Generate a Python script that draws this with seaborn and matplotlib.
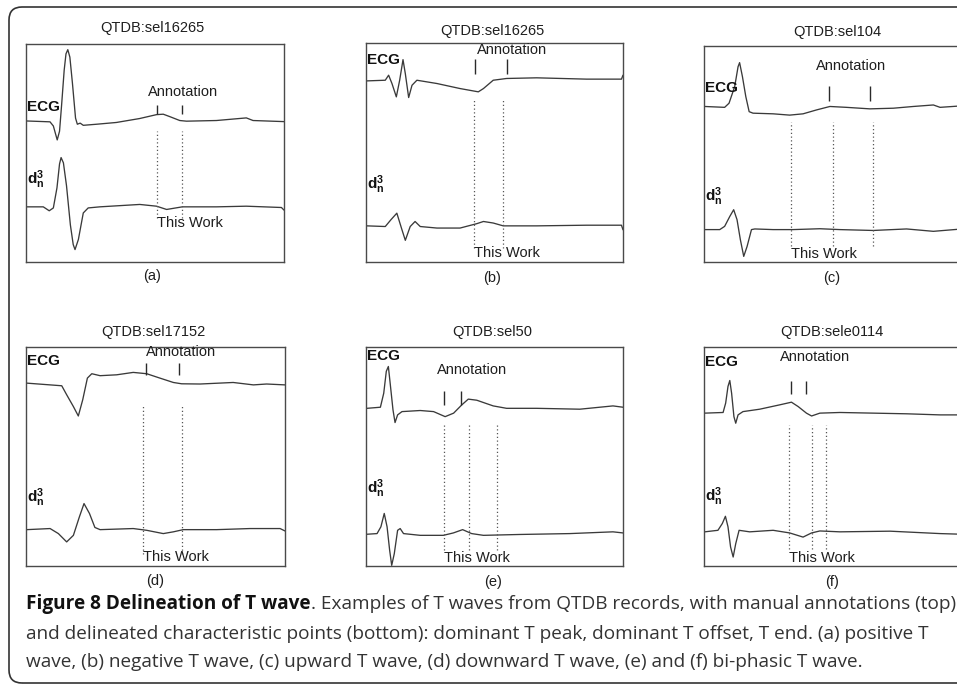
import numpy as np
import pandas as pd
import matplotlib
matplotlib.use("Agg")
import matplotlib.pyplot as plt
import seaborn as sns
from matplotlib.patches import FancyBboxPatch

# ---------------- data (x: 0-100 across box, y: 0-100 up box) ----
titles = ["QTDB:sel16265", "QTDB:sel16265", "QTDB:sel104",
          "QTDB:sel17152", "QTDB:sel50", "QTDB:sele0114"]
sublabels = ["(a)", "(b)", "(c)", "(d)", "(e)", "(f)"]

a_ecg_x = [0, 9.3, 10.6, 12.1, 13.0, 13.8, 14.8, 15.5, 16.2, 17.0, 18.0, 19.2, 19.9, 21.0, 22.2, 27.4, 35.0, 44.0, 50.6, 53.2, 55.7, 59.6, 62.2, 73.8, 85.4, 88.0, 100]
a_ecg_y = [64.7, 64.3, 62.4, 56.0, 60.0, 72.0, 88.0, 95.5, 97.4, 94.0, 82.0, 66.0, 63.2, 63.7, 62.7, 63.2, 64.0, 65.8, 67.6, 67.8, 66.7, 64.9, 64.6, 64.9, 66.1, 64.9, 64.4]
a_d3_x = [0, 6.7, 9.0, 10.6, 12.0, 13.0, 13.6, 14.5, 15.7, 17.2, 18.3, 19.0, 20.3, 22.2, 24.1, 28.6, 44.1, 50.6, 54.5, 60.6, 73.8, 85.4, 99.0, 100]
a_d3_y = [25.3, 25.3, 23.5, 24.8, 34.0, 45.0, 47.9, 45.5, 35.0, 17.0, 8.0, 5.7, 10.3, 22.5, 24.8, 25.3, 26.4, 25.6, 24.1, 25.3, 25.3, 25.6, 25.0, 23.8]
a_ann = [50.6, 60.6]
a_work = [50.6, 60.6]

b_ecg_x = [0.4, 7.5, 8.8, 10.1, 11.8, 13.1, 14.4, 15.3, 16.6, 17.9, 19.8, 27.6, 36.6, 43.7, 45.7, 49.5, 54.7, 66.4, 85.8, 99.4, 100]
b_ecg_y = [82.7, 83.0, 85.3, 81.5, 75.4, 83.0, 92.4, 86.0, 75.1, 80.7, 83.0, 81.5, 79.2, 77.7, 79.2, 83.0, 83.8, 84.1, 83.5, 83.5, 85.3]
b_d3_x = [0.4, 7.5, 9.7, 12.0, 14.0, 15.3, 17.2, 19.1, 21.1, 27.6, 36.6, 43.1, 45.7, 49.5, 53.4, 66.4, 85.8, 99.4, 100]
b_d3_y = [16.5, 16.2, 19.3, 22.3, 14.7, 9.9, 16.2, 18.5, 16.2, 15.5, 15.5, 17.5, 18.5, 17.8, 16.5, 16.5, 16.8, 16.8, 14.7]
b_ann = [42.4, 54.7]
b_work = [42.2, 53.2]

c_ecg_x = [0.3, 8.0, 9.7, 11.9, 13.2, 13.8, 14.9, 16.2, 17.5, 19.0, 26.8, 33.2, 38.4, 43.6, 48.8, 55.2, 64.3, 73.4, 81.1, 88.9, 91.5, 100]
c_ecg_y = [72.0, 71.6, 73.5, 81.2, 90.4, 92.3, 85.8, 76.6, 69.6, 68.9, 68.6, 68.0, 68.6, 70.4, 72.0, 71.6, 70.9, 71.2, 72.0, 72.7, 71.6, 72.3]
c_d3_x = [0.3, 6.1, 8.0, 10.0, 11.5, 12.8, 14.1, 15.4, 16.7, 18.4, 19.7, 26.8, 34.5, 44.9, 52.7, 65.6, 78.5, 88.9, 100]
c_d3_y = [15.0, 15.0, 16.5, 21.1, 24.2, 19.6, 10.3, 2.6, 7.2, 15.0, 15.3, 15.0, 15.0, 15.4, 15.0, 14.6, 15.3, 14.2, 15.3]
c_ann = [48.5, 64.3]
c_work = [33.9, 50.1, 65.6]

d_ecg_x = [0.3, 9.3, 13.8, 15.7, 18.3, 20.2, 21.9, 23.7, 25.4, 28.6, 35.0, 41.4, 46.6, 51.7, 56.9, 60.1, 67.2, 80.0, 87.8, 92.9, 100]
d_ecg_y = [83.5, 82.7, 82.3, 78.2, 72.8, 68.5, 75.9, 85.8, 87.8, 86.9, 87.3, 88.4, 87.8, 85.8, 83.8, 83.2, 83.1, 83.8, 82.7, 83.1, 82.7]
d_d3_x = [0.3, 9.3, 12.5, 15.7, 18.3, 20.6, 22.4, 24.5, 26.6, 28.6, 41.4, 46.6, 53.0, 56.9, 60.7, 73.6, 86.5, 98.1, 100]
d_d3_y = [16.6, 17.1, 14.8, 11.0, 14.0, 22.4, 28.5, 24.0, 17.6, 16.6, 17.1, 16.3, 14.8, 15.6, 16.6, 16.6, 17.1, 17.1, 16.0]
d_ann = [46.2, 59.1]
d_work = [45.3, 60.1]

e_ecg_x = [0.4, 5.6, 6.9, 7.9, 8.7, 9.4, 10.5, 11.3, 12.3, 14.0, 21.1, 26.3, 30.8, 34.1, 37.3, 39.8, 43.1, 49.5, 54.7, 66.4, 83.2, 96.1, 100]
e_ecg_y = [72.0, 72.5, 78.9, 88.9, 91.1, 83.5, 71.3, 65.5, 69.0, 70.5, 71.0, 70.5, 68.2, 69.8, 73.6, 76.2, 75.7, 73.1, 72.0, 72.0, 71.6, 73.1, 72.5]
e_d3_x = [0.4, 4.3, 5.8, 7.1, 8.2, 9.2, 10.0, 11.0, 12.3, 13.3, 14.6, 21.1, 30.1, 34.0, 37.6, 41.1, 45.7, 59.9, 79.3, 96.1, 100]
e_d3_y = [14.5, 14.8, 17.9, 24.0, 17.9, 7.2, 0.3, 5.6, 16.3, 17.1, 14.8, 14.0, 14.0, 15.1, 16.6, 14.8, 14.0, 14.4, 14.8, 15.6, 15.1]
e_ann = [30.5, 36.9]
e_work = [30.4, 40.2, 50.8]

f_ecg_x = [0.3, 7.4, 8.4, 9.3, 10.0, 10.7, 11.6, 12.3, 13.2, 15.1, 21.6, 29.4, 33.9, 36.5, 39.7, 41.7, 44.9, 52.7, 65.6, 78.5, 91.5, 100]
f_ecg_y = [69.8, 70.1, 74.4, 82.0, 84.7, 78.9, 68.2, 65.2, 69.0, 70.5, 71.6, 73.6, 74.8, 72.8, 69.8, 68.5, 69.8, 70.1, 69.8, 69.5, 69.0, 69.0]
f_d3_x = [0.3, 5.4, 7.1, 8.3, 9.3, 10.3, 11.3, 12.3, 13.6, 17.7, 26.8, 33.2, 38.4, 41.7, 44.9, 52.7, 72.1, 91.5, 100]
f_d3_y = [15.6, 16.3, 19.4, 22.7, 17.9, 8.7, 4.1, 10.2, 16.3, 15.6, 16.3, 15.1, 13.2, 15.1, 16.0, 15.6, 15.9, 14.8, 14.5]
f_ann = [33.9, 39.7]
f_work = [33.1, 41.9, 47.3]

caption_bold = "Figure 8 Delineation of T wave"
caption_l1 = ". Examples of T waves from QTDB records, with manual annotations (top)"
caption_l2 = "and delineated characteristic points (bottom): dominant T peak, dominant T offset, T end. (a) positive T"
caption_l3 = "wave, (b) negative T wave, (c) upward T wave, (d) downward T wave, (e) and (f) bi-phasic T wave."

# ---------------- layout (pixels) ----------------
W, H = 957, 685
boxes = [(26, 44, 284, 262), (366, 43, 623, 262), (704, 46, 962, 262),
         (26, 347, 285, 566), (366, 347, 623, 566), (704, 347, 962, 566)]
title_pos = [(152, 28), (492, 31), (837, 32), (153, 332), (492, 332), (832, 332)]
sub_pos = [(152, 276), (492, 278), (832, 278), (155, 581), (493, 582), (832, 582)]
extra = [
    dict(tick=(67.8, 71.8), ann=(61.0, 77.8, "center"), ecg=71.3, d3=37.9, dot=(20.2, 60.1), work=17.9),
    dict(tick=(86.0, 92.9), ann=(43.1, 96.6, "left"), ecg=92.4, d3=35.2, dot=(6.4, 75.1), work=4.1),
    dict(tick=(74.7, 81.5), ann=(56.8, 90.9, "center"), ecg=80.7, d3=30.4, dot=(7.2, 65.0), work=3.9),
    dict(tick=(87.3, 92.7), ann=(46.2, 97.7, "left"), ecg=93.4, d3=31.3, dot=(5.3, 74.0), work=4.1),
    dict(tick=(73.6, 79.7), ann=(27.6, 89.3, "left"), ecg=95.7, d3=35.4, dot=(7.2, 64.4), work=3.8),
    dict(tick=(78.6, 84.3), ann=(29.6, 95.4, "left"), ecg=93.0, d3=31.6, dot=(7.9, 64.4), work=3.8),
]

panels = [
    (a_ecg_x, a_ecg_y, a_d3_x, a_d3_y, a_ann, a_work),
    (b_ecg_x, b_ecg_y, b_d3_x, b_d3_y, b_ann, b_work),
    (c_ecg_x, c_ecg_y, c_d3_x, c_d3_y, c_ann, c_work),
    (d_ecg_x, d_ecg_y, d_d3_x, d_d3_y, d_ann, d_work),
    (e_ecg_x, e_ecg_y, e_d3_x, e_d3_y, e_ann, e_work),
    (f_ecg_x, f_ecg_y, f_d3_x, f_d3_y, f_ann, f_work),
]

sns.set_theme(style="white")
plt.rcParams["font.family"] = ["Liberation Sans", "DejaVu Sans"]
plt.rcParams["mathtext.fontset"] = "custom"
plt.rcParams["mathtext.rm"] = "Liberation Sans"
plt.rcParams["mathtext.bf"] = "Liberation Sans:bold"

fig = plt.figure(figsize=(W / 100, H / 100), dpi=100)
fig.patch.set_facecolor("white")

def fx(px):
    return px / W

def fy(py):
    return 1 - py / H

trace_col = "#3a3a3a"
txt_col = "#1e1e1e"
fs = 10.5

for i, (ex, ey, dx, dy, ann, work) in enumerate(panels):
    x0, y0, x1, y1 = boxes[i]
    ax = fig.add_axes([fx(x0), fy(y1), (x1 - x0) / W, (y1 - y0) / H])
    ax.set_facecolor("white")
    df = pd.concat([
        pd.DataFrame({"t": ex, "v": ey, "s": "ECG"}),
        pd.DataFrame({"t": dx, "v": dy, "s": "d3"}),
    ], ignore_index=True)
    sns.lineplot(data=df, x="t", y="v", units="s", estimator=None, sort=False,
                 color=trace_col, lw=0.95, ax=ax, legend=False)
    e = extra[i]
    ax.vlines(ann, e["tick"][0], e["tick"][1], color="#2a2a2a", lw=1.0)
    ax.vlines(work, e["dot"][0], e["dot"][1], color="#555555", lw=0.9,
              linestyles=(0, (1, 2)))
    ax.text(e["ann"][0], e["ann"][1], "Annotation", ha=e["ann"][2], va="center",
            fontsize=fs, color=txt_col)
    ax.text(work[0], e["work"], "This Work", ha="left", va="center",
            fontsize=fs, color=txt_col)
    ax.text(0.5, e["ecg"], "ECG", ha="left", va="center", fontsize=11,
            fontweight="bold", color="#111111")
    ax.text(0.5, e["d3"], r"$\mathbf{d_n^3}$", ha="left", va="center",
            fontsize=11, color="#111111")
    ax.set_xlim(0, 100)
    ax.set_ylim(0, 100)
    ax.set_xticks([])
    ax.set_yticks([])
    ax.set_xlabel("")
    ax.set_ylabel("")
    for sp in ax.spines.values():
        sp.set_visible(True)
        sp.set_color("#4a4a4a")
        sp.set_linewidth(1.0)
    fig.text(fx(title_pos[i][0]), fy(title_pos[i][1]), titles[i], ha="center",
             va="center", fontsize=fs, color=txt_col)
    fig.text(fx(sub_pos[i][0]), fy(sub_pos[i][1]), sublabels[i], ha="center",
             va="center", fontsize=fs, color=txt_col)

# outer rounded border (in inches, so corners are round)
border = FancyBboxPatch((9 / 100, (H - 683) / 100), 10.2 - 0.09, (683 - 7) / 100,
                        boxstyle="round,pad=0,rounding_size=0.13",
                        transform=fig.dpi_scale_trans, fill=False,
                        edgecolor="#333333", lw=1.2, zorder=0)
fig.patches.append(border)

# caption: fit font size so lines span the same width as in the reference
cap_family = ["Open Sans", "DejaVu Sans"]
fig.canvas.draw()
renderer = fig.canvas.get_renderer()

def width(s, size, weight="normal"):
    t = fig.text(0, 0, s, fontsize=size, family=cap_family, fontweight=weight)
    w = t.get_window_extent(renderer).width
    t.remove()
    return w

w1 = width(caption_bold, 12, "bold") + width(caption_l1, 12)
w2 = width(caption_l2, 12)
cfs = min(12 * (953 - 26) / w1, 12 * (947 - 26) / w2)

cx = fx(26)
tb = fig.text(cx, fy(604), caption_bold, fontsize=cfs, family=cap_family,
              fontweight="bold", color="#111111", va="center", ha="left")
fig.canvas.draw()
bb = tb.get_window_extent(renderer)
fig.text(bb.x1 / W, fy(604), caption_l1, fontsize=cfs, family=cap_family,
         color="#333333", va="center", ha="left")
fig.text(cx, fy(634), caption_l2, fontsize=cfs, family=cap_family,
         color="#333333", va="center", ha="left")
fig.text(cx, fy(662), caption_l3, fontsize=cfs, family=cap_family,
         color="#333333", va="center", ha="left")

fig.savefig("out.png", dpi=100, facecolor="white")
